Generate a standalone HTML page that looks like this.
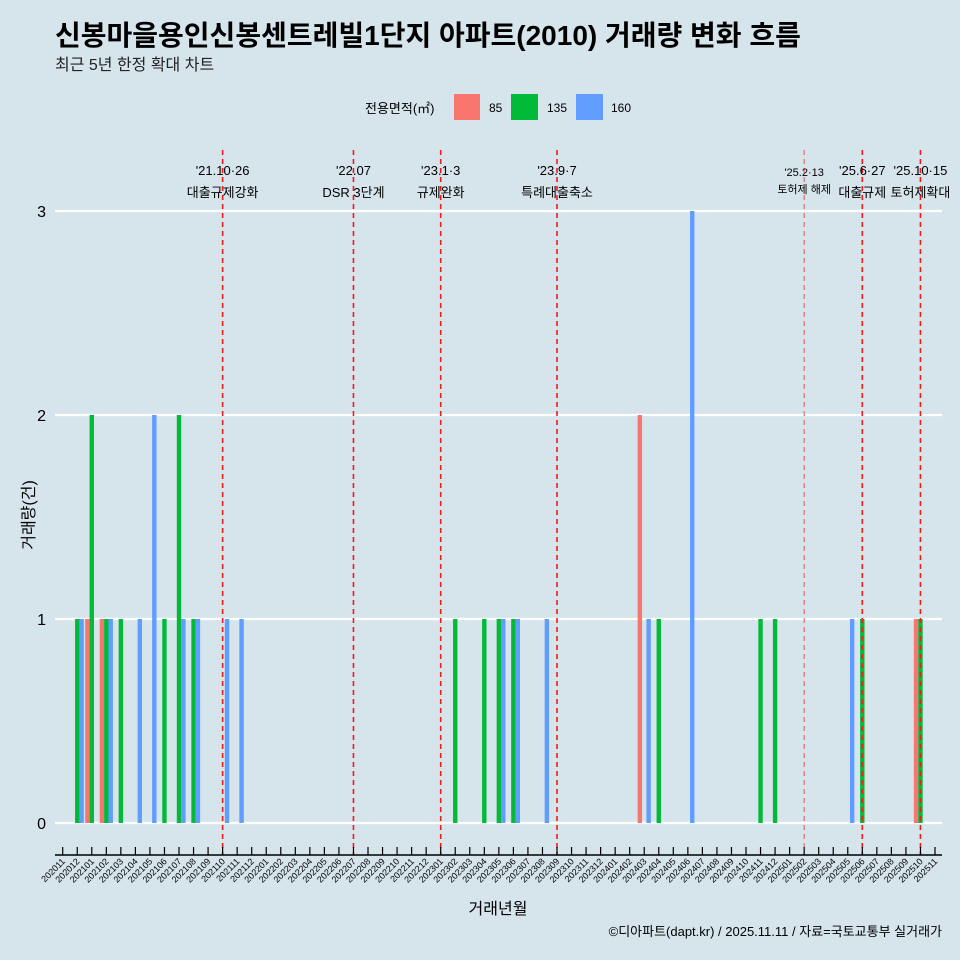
<!DOCTYPE html>
<html><head><meta charset="utf-8"><style>
body{margin:0;background:#d6e4eb}
svg{display:block;font-family:"Liberation Sans","Noto Sans CJK KR",sans-serif}
</style></head><body>
<svg id="c" width="960" height="960" viewBox="0 0 960 960">
<rect width="960" height="960" fill="#d6e4eb"/>
<text x="55" y="45" font-size="28" font-weight="bold" fill="#000">신봉마을용인신봉센트레빌1단지 아파트(2010) 거래량 변화 흐름</text>
<text x="55" y="70" font-size="16" fill="#222">최근 5년 한정 확대 차트</text>
<g>
<text x="365" y="113" font-size="13">전용면적(㎡)</text>
<rect x="454" y="94" width="26" height="26" fill="#f8766d"/>
<text x="489" y="112" font-size="12">85</text>
<rect x="511" y="94" width="27" height="26" fill="#00ba38"/>
<text x="547" y="112" font-size="12">135</text>
<rect x="576" y="94" width="27" height="26" fill="#619cff"/>
<text x="611" y="112" font-size="12">160</text>
</g>
<g id="grid"></g><g id="bars"></g><g id="events"></g><g id="axes"></g>
<text x="34" y="515" font-size="16" text-anchor="middle" transform="rotate(-90 34 515)">거래량(건)</text>
<text x="498" y="914" font-size="16" text-anchor="middle">거래년월</text>
<text x="942" y="936" font-size="13" text-anchor="end">©디아파트(dapt.kr) / 2025.11.11 / 자료=국토교통부 실거래가</text>
</svg>
<script>
const months = [];
for (let y = 2020, m = 11; !(y === 2025 && m === 12); ) { months.push(String(y) + String(m).padStart(2, '0')); m++; if (m > 12) { m = 1; y++; } }
const yTicks = [0, 1, 2, 3];
const sizes = ['85', '135', '160'];
const colors = ['#f8766d', '#00ba38', '#619cff'];
const barMonths = ['202012','202012','202101','202101','202102','202102','202102','202103','202104','202105','202106','202107','202107','202108','202108','202110','202111','202302','202304','202305','202305','202306','202306','202308','202403','202403','202404','202406','202411','202412','202505','202506','202510','202510'];
const barSizes = ['135','160','85','135','85','135','160','135','160','160','135','135','160','135','160','160','160','135','135','135','160','135','160','160','85','160','135','160','135','135','160','135','85','135'];
const barCounts = [1,1,1,2,1,1,1,1,1,2,1,2,1,1,1,1,1,1,1,1,1,1,1,1,2,1,1,3,1,1,1,1,1,1];
const eventMonths = ['202110','202207','202301','202309','202502','202506','202510'];
const eventDates = ["'21.10·26","'22.07","'23.1·3","'23.9·7","'25.2·13","'25.6·27","'25.10·15"];
const eventLabels = ['대출규제강화','DSR 3단계','규제완화','특례대출축소','토허제 해제','대출규제','토허제확대'];

const NS = 'http://www.w3.org/2000/svg';
function mk(tag, attrs, parent, text) { const e = document.createElementNS(NS, tag); for (const k in attrs) e.setAttribute(k, attrs[k]); if (text !== undefined) e.textContent = text; parent.appendChild(e); return e; }
const x0 = 62.7, step = (935 - 62.7) / 60;
const xScale = m => x0 + months.indexOf(m) * step;
const yScale = v => 823 - v * 204;
const slot = 4.4;

const grid = document.getElementById('grid');
const axes = document.getElementById('axes');
yTicks.forEach(t => {
  const l = mk('line', {x1: 55, x2: 942, y1: yScale(t), y2: yScale(t), stroke: '#fff', 'stroke-width': 2.2}, grid);
  
  
  const tx = mk('text', {x: 46, y: yScale(t) + 6, 'font-size': 16, 'text-anchor': 'end'}, axes, String(t));
  
  
});
const bars = document.getElementById('bars');
barMonths.forEach((m, i) => {
  const si = sizes.indexOf(barSizes[i]);
  const cx = xScale(m) + (si - 1) * slot;
  const r = mk('rect', {x: cx - slot / 2, y: yScale(barCounts[i]), width: slot, height: yScale(0) - yScale(barCounts[i]), fill: colors[si]}, bars);
  
  
});
const ev = document.getElementById('events');
eventMonths.forEach((m, i) => {
  const x = xScale(m);
  const small = m === '202502';
  const l = mk('line', {x1: x, x2: x, y1: 150, y2: 855, stroke: small ? '#e8545a' : '#ee1c1c', 'stroke-width': small ? 1 : 1.6, 'stroke-dasharray': '5,4'}, ev);
  
  
  const fs = small ? 11 : 13;
  const t1 = mk('text', {x: x, y: small ? 176 : 175, 'font-size': fs, 'text-anchor': 'middle'}, ev, eventDates[i]);
  
  
  const t2 = mk('text', {x: x, y: small ? 193 : 197, 'font-size': fs, 'text-anchor': 'middle'}, ev, eventLabels[i]);
  
  
});
const ax = mk('line', {x1: 55, x2: 942, y1: 855, y2: 855, stroke: '#000', 'stroke-width': 1.5}, axes);


months.forEach(m => {
  const x = xScale(m);
  const t = mk('line', {x1: x, x2: x, y1: 847, y2: 855, stroke: '#000', 'stroke-width': 1.2}, axes);
  
  
  const lb = mk('text', {x: x + 3, y: 862, 'font-size': 9, 'text-anchor': 'end', transform: 'rotate(-45 ' + (x + 3) + ' 862)'}, axes, m);
  
  
});
</script>
</body></html>
